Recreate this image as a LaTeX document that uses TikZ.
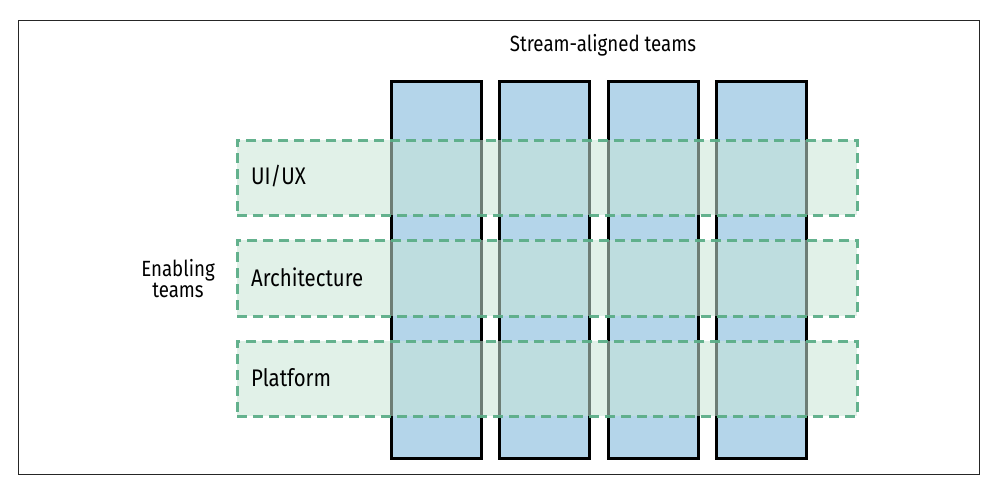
\documentclass[tikz,border=0pt]{standalone}
\usepackage{fontspec}
\setmainfont{Fira Sans}[FakeStretch=0.85]
\begin{document}
\definecolor{colfill}{RGB}{180,213,234}
\definecolor{bandfill}{RGB}{200,229,214}
\definecolor{banddraw}{RGB}{92,174,136}
\tikzset{
  stream/.style={draw=black, line width=2.6pt, fill=colfill, inner sep=0pt,
    minimum width=90pt, minimum height=377pt, anchor=north west},
  band/.style={draw=banddraw, line width=2.6pt, dash pattern=on 10pt off 6pt,
    fill=bandfill, fill opacity=0.55, draw opacity=0.95, inner sep=0pt,
    minimum width=620pt, minimum height=75pt, anchor=north west},
  lbl/.style={font=\fontsize{22}{21}\selectfont, inner sep=0pt, text=black},
  bandlbl/.style={lbl, font=\fontsize{24}{26}\selectfont, anchor=west},
}
\begin{tikzpicture}[x=1pt, y=-1pt]
  \useasboundingbox (0,0) rectangle (990,486);
  % outer frame
  \node[draw=black!85, line width=1.4pt, inner sep=0pt, minimum width=961pt,
        minimum height=454pt, anchor=north west] (frame) at (18,20) {};

  % stream-aligned team columns
  \node[stream] (s1) at (390,80) {};
  \node[stream] (s2) at (498,80) {};
  \node[stream] (s3) at (607,80) {};
  \node[stream] (s4) at (715,80) {};

  % enabling team bands laid across the columns
  \node[band] (b1) at (236,139) {};
  \node[band, minimum height=76pt] (b2) at (236,239) {};
  \node[band] (b3) at (236,340) {};

  % labels
  \node[lbl] (stitle) at (603,45) {Stream-aligned teams};
  \node[bandlbl] (l1) at (251,176) {UI/UX};
  \node[bandlbl] (l2) at (251,277) {Architecture};
  \node[bandlbl] (l3) at (251,378) {Platform};
  \node[lbl, align=center] (etitle) at (178,279) {Enabling\\teams};
\end{tikzpicture}
\end{document}
